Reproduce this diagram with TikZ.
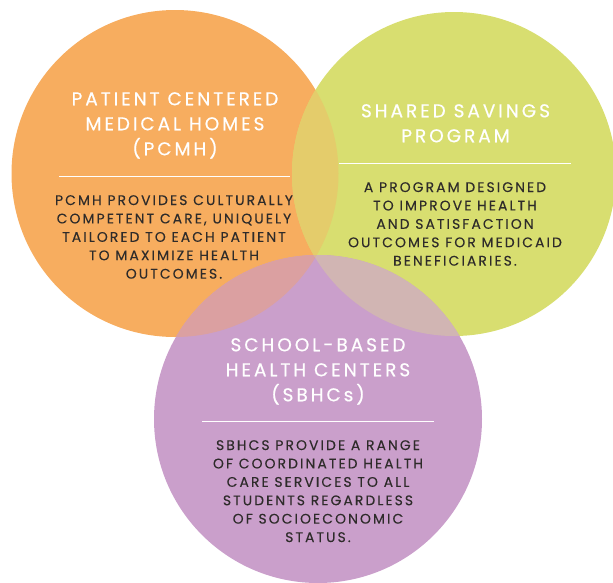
\documentclass[tikz,border=0pt]{standalone}
\usepackage{fontspec}
\setmainfont{Poppins}
\newfontfamily\titlefont[LetterSpace=16,FakeBold=0.5]{Poppins}
\newfontfamily\bodyfont[LetterSpace=15,FakeBold=0.2]{Poppins}
\definecolor{cOrange}{HTML}{F7AD5F}
\definecolor{cGreen}{HTML}{D8DE70}
\definecolor{cPurple}{HTML}{CA9FCB}
\definecolor{cOG}{HTML}{E4CC6B}
\definecolor{cOP}{HTML}{DBA0A1}
\definecolor{cGP}{HTML}{D1B5B3}
\definecolor{cOGP}{HTML}{D9B596}
\definecolor{cBody}{HTML}{2E2B2A}
\tikzset{
  titletext/.style={anchor=north, inner sep=0pt, align=center, text=white,
    font=\titlefont\fontsize{18.5}{25}\selectfont},
  bodytext/.style={anchor=north, inner sep=0pt, align=center, text=cBody,
    font=\bodyfont\fontsize{13.9}{18.4}\selectfont},
  sepline/.style={draw=white, line width=0.8pt}
}
\begin{document}
\begin{tikzpicture}[x=1pt,y=-1pt]
\useasboundingbox (0,0) rectangle (613,582);
\def\Ocircle{(175,173.5) circle[radius=163.5]}
\def\Gcircle{(454,174) circle[radius=162]}
\def\Pcircle{(318,419) circle[radius=164]}
\fill[cOrange] \Ocircle;
\fill[cGreen] \Gcircle;
\fill[cPurple] \Pcircle;
\begin{scope}
  \clip \Ocircle; \fill[cOG] \Gcircle;
\end{scope}
\begin{scope}
  \clip \Ocircle; \fill[cOP] \Pcircle;
\end{scope}
\begin{scope}
  \clip \Gcircle; \fill[cGP] \Pcircle;
\end{scope}
\begin{scope}
  \clip \Ocircle; \clip \Gcircle; \fill[cOGP] \Pcircle;
\end{scope}
% orange
\node[titletext] (otitle) at (175,92) {PATIENT CENTERED\\MEDICAL HOMES\\(PCMH)};
\coordinate (osepL) at (59,176);
\coordinate (osepR) at (290,176);
\draw[sepline] (osepL) -- (osepR);
\node[bodytext] (obody) at (174,195) {PCMH PROVIDES CULTURALLY\\COMPETENT CARE, UNIQUELY\\TAILORED TO EACH PATIENT\\TO MAXIMIZE HEALTH\\OUTCOMES.};
% green
\node[titletext] (gtitle) at (455.5,104) {SHARED SAVINGS\\PROGRAM};
\coordinate (gsepL) at (339,163);
\coordinate (gsepR) at (571,163);
\draw[sepline] (gsepL) -- (gsepR);
\node[bodytext] (gbody) at (455,182) {A PROGRAM DESIGNED\\TO IMPROVE HEALTH\\AND SATISFACTION\\OUTCOMES FOR MEDICAID\\BENEFICIARIES.};
% purple
\node[titletext] (ptitle) at (318,338) {SCHOOL-BASED\\HEALTH CENTERS\\(SBHCs)};
\coordinate (psepL) at (202,421);
\coordinate (psepR) at (434,421);
\draw[sepline] (psepL) -- (psepR);
\node[bodytext] (pbody) at (318,440) {SBHCS PROVIDE A RANGE\\OF COORDINATED HEALTH\\CARE SERVICES TO ALL\\STUDENTS REGARDLESS\\OF SOCIOECONOMIC\\STATUS.};
\end{tikzpicture}
\end{document}
